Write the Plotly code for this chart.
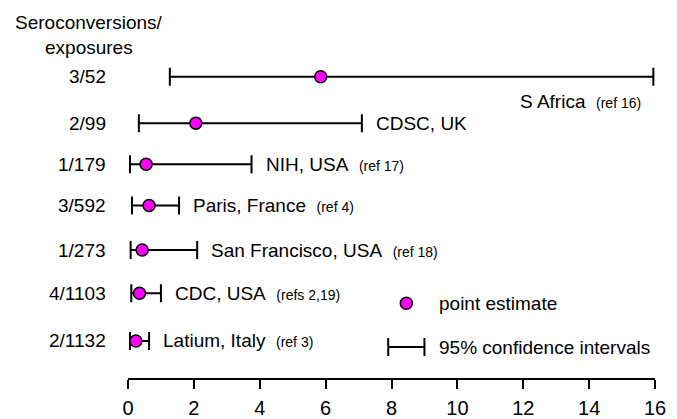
import plotly.graph_objects as go

# ---- data ----
exposures = ["3/52", "2/99", "1/179", "3/592", "1/273", "4/1103", "2/1132"]
sites = ["S Africa", "CDSC, UK", "NIH, USA", "Paris, France", "San Francisco, USA",
         "CDC, USA", "Latium, Italy"]
refs = ["(ref 16)", "", "(ref 17)", "(ref 4)", "(ref 18)", "(refs 2,19)", "(ref 3)"]
point_est = [5.85, 2.06, 0.55, 0.64, 0.43, 0.35, 0.24]
ci_low = [1.27, 0.33, 0.06, 0.12, 0.08, 0.1, 0.06]
ci_high = [15.95, 7.1, 3.75, 1.55, 2.1, 1.0, 0.64]
x_ticks = [0, 2, 4, 6, 8, 10, 12, 14, 16]

# ---- layout helpers (row positions, in row units) ----
row_y = [0, 1.07, 2.02, 2.97, 4.0, 5.0, 6.1]
legend_pt_y = 5.23
legend_ci_y = 6.24
legend_x = 8.45
legend_half = 0.55
legend_text_x = 9.38

FONT = "Liberation Sans, Arial, sans-serif"
MAG = "#FF00FF"

fig = go.Figure()

fig.add_trace(go.Scatter(
    x=point_est, y=row_y, mode="markers",
    marker=dict(size=12, color=MAG, line=dict(color="black", width=1.5)),
    error_x=dict(type="data", symmetric=False,
                 array=[h - p for h, p in zip(ci_high, point_est)],
                 arrayminus=[p - l for p, l in zip(point_est, ci_low)],
                 color="black", thickness=2, width=9),
    cliponaxis=False, showlegend=False, hoverinfo="skip"))

# legend: point estimate
fig.add_trace(go.Scatter(
    x=[legend_x], y=[legend_pt_y], mode="markers",
    marker=dict(size=12, color=MAG, line=dict(color="black", width=1.5)),
    cliponaxis=False, showlegend=False, hoverinfo="skip"))
# legend: CI
fig.add_trace(go.Scatter(
    x=[legend_x], y=[legend_ci_y], mode="markers",
    marker=dict(size=1, color="rgba(0,0,0,0)"),
    error_x=dict(type="constant", value=legend_half, color="black", thickness=2, width=9),
    cliponaxis=False, showlegend=False, hoverinfo="skip"))

REF = "<span style='font-size:14px'>%s</span>"
ann = []
for e, y in zip(exposures, row_y):
    ann.append(dict(x=0, xref="paper", y=y, yref="y", text=e, showarrow=False,
                    xanchor="right", xshift=-20, font=dict(size=19)))
for i, (s, r, hi, y) in enumerate(zip(sites, refs, ci_high, row_y)):
    txt = s + ("&nbsp; " + REF % r if r else "")
    if i == 0:
        ann.append(dict(x=hi, y=y + 0.57, text=txt, showarrow=False,
                        xanchor="right", xshift=-10, font=dict(size=19)))
    else:
        ann.append(dict(x=hi, y=y, text=txt, showarrow=False,
                        xanchor="left", xshift=12, font=dict(size=19)))

# header (paper coords so it is not hidden outside the axis range)
ann.append(dict(x=-0.074, xref="paper", y=1 - 23 / 384, yref="paper",
                text="Seroconversions/", showarrow=False, xanchor="center",
                yanchor="middle", font=dict(size=19)))
ann.append(dict(x=-0.074, xref="paper", y=1 - 48 / 384, yref="paper",
                text="exposures", showarrow=False, xanchor="center",
                yanchor="middle", font=dict(size=19)))
ann.append(dict(x=legend_text_x, y=legend_pt_y, text="point estimate", showarrow=False,
                xanchor="left", font=dict(size=19)))
ann.append(dict(x=legend_text_x, y=legend_ci_y, text="95% confidence intervals",
                showarrow=False, xanchor="left", font=dict(size=19)))

fig.update_layout(
    width=677, height=419,
    margin=dict(l=128, r=22, t=0, b=35),
    paper_bgcolor="white", plot_bgcolor="white",
    font=dict(family=FONT, color="black", size=19),
    annotations=ann,
    xaxis=dict(range=[0, 16], tickvals=x_ticks, ticktext=[str(t) for t in x_ticks],
               showgrid=False, zeroline=False, showline=True, linecolor="black",
               linewidth=2, ticks="outside", ticklen=9, tickwidth=2, tickcolor="black",
               tickfont=dict(size=20), ticklabelstandoff=2, fixedrange=True),
    yaxis=dict(range=[6.955, -1.773], showgrid=False, zeroline=False, showline=False,
               showticklabels=False, ticks="", fixedrange=True),
)

fig.write_html("out.html", config={"displayModeBar": False},
               post_script="document.body.style.margin='0';document.body.style.overflow='hidden';")
